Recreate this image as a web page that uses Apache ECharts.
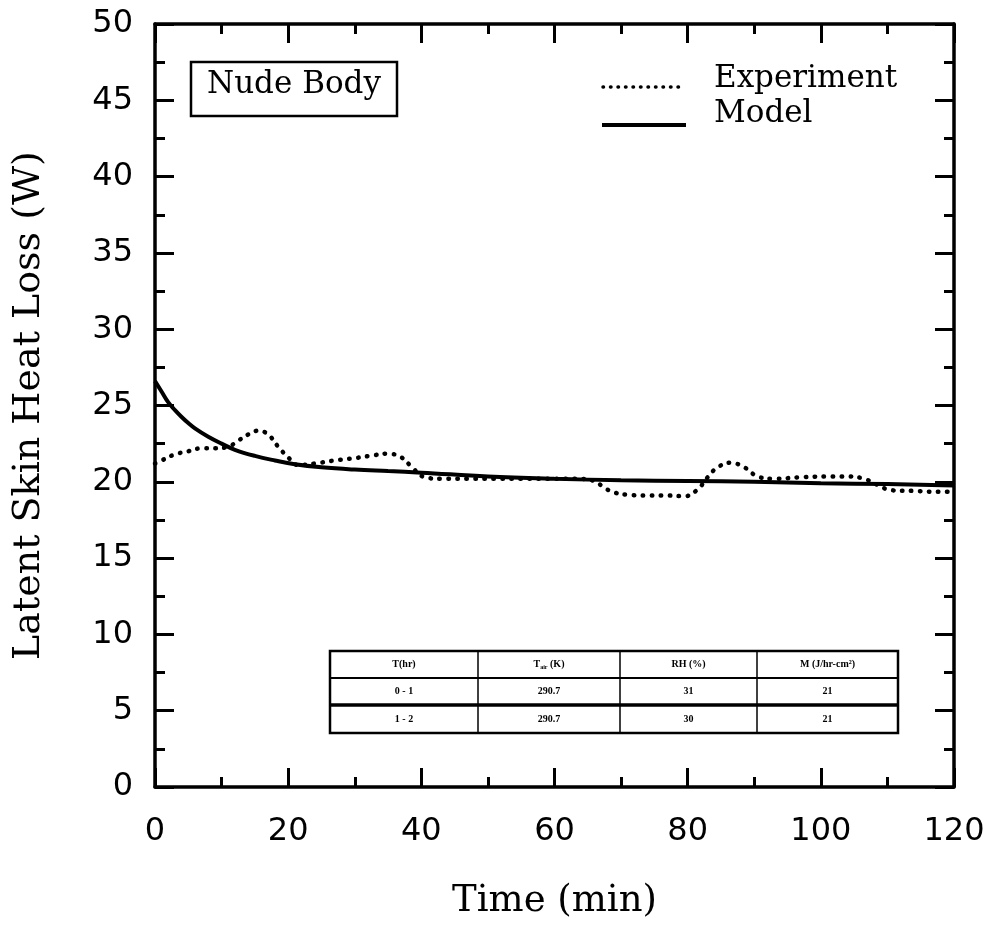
<!DOCTYPE html>
<html>
<head>
<meta charset="utf-8">
<script src="https://cdn.jsdelivr.net/npm/echarts@6/dist/echarts.min.js"></script>
<style>
  html, body { margin: 0; padding: 0; background: #fff; }
  #chart { width: 992px; height: 931px; }
</style>
</head>
<body>
<div id="chart"></div>
<script>
// Model prediction of latent skin heat loss (W) versus time (min)
const modelTime = [0, 1, 2, 3, 4, 5, 6, 8, 10, 12, 15, 18, 21, 25, 30, 35, 40, 50, 60, 70, 80, 90, 100, 110, 120];
const modelLoss = [26.6, 25.9, 25.2, 24.7, 24.25, 23.85, 23.5, 22.95, 22.5, 22.1, 21.7, 21.4, 21.15, 20.95, 20.8, 20.7, 20.6, 20.35, 20.2, 20.1, 20.05, 20.0, 19.9, 19.85, 19.75];

// Measured latent skin heat loss (W)
const expTime = [0, 1, 3, 5, 7, 9, 11, 12.5, 14, 15.5, 17, 18.5, 20, 21.5, 24, 27, 30, 33, 35, 37, 38.5, 40.5, 43, 47, 51, 55, 59, 63, 66, 67.5, 69, 71, 74, 77, 79.5, 81.5, 83, 84.5, 86.5, 88.5, 90.5, 93, 97, 101, 104, 106.5, 108.5, 110.5, 114, 117, 120];
const expLoss = [21.2, 21.4, 21.8, 22.0, 22.2, 22.2, 22.3, 22.7, 23.1, 23.35, 23.1, 22.3, 21.6, 21.1, 21.2, 21.4, 21.55, 21.75, 21.85, 21.6, 21.0, 20.3, 20.2, 20.2, 20.2, 20.2, 20.2, 20.2, 20.05, 19.6, 19.3, 19.15, 19.1, 19.1, 19.05, 19.5, 20.3, 20.95, 21.25, 20.95, 20.35, 20.2, 20.3, 20.35, 20.35, 20.2, 19.8, 19.45, 19.4, 19.35, 19.35];

// Experimental conditions table
const tableHeader = ['T(hr)', '{b|T}{sub|air}{b| (K)}', 'RH (%)', 'M (J/hr-cm²)'];
const tableRows = [
  ['0 - 1', '290.7', '31', '21'],
  ['1 - 2', '290.7', '30', '21']
];

const panelTitle = 'Nude Body';
const legendNames = ['Experiment', 'Model'];

const slabFont = "'DejaVu Serif', 'Liberation Serif', serif";
const sansFont = "'DejaVu Sans', sans-serif";
const serifFont = "'Liberation Serif', 'Times New Roman', serif";

const zip = (xs, ys) => xs.map((x, i) => [x, ys[i]]);

const chart = echarts.init(document.getElementById('chart'), null, { renderer: 'canvas' });

// Table layout
const tLeft = 330, tTop = 651, tRight = 898, tBottom = 733;
const colEdges = [330, 478, 620, 757, 898];
const rowEdges = [651, 678, 705, 733];
const tableGraphics = [];
tableGraphics.push({
  type: 'rect', z: 100,
  shape: { x: tLeft, y: tTop, width: tRight - tLeft, height: tBottom - tTop },
  style: { fill: '#fff', stroke: '#000', lineWidth: 2.5 }
});
rowEdges.slice(1, -1).forEach((y, i) => {
  tableGraphics.push({
    type: 'line', z: 101,
    shape: { x1: tLeft, y1: y, x2: tRight, y2: y },
    style: { stroke: '#000', lineWidth: i === 1 ? 3.5 : 2 }
  });
});
colEdges.slice(1, -1).forEach(x => {
  tableGraphics.push({
    type: 'line', z: 101,
    shape: { x1: x, y1: tTop, x2: x, y2: tBottom },
    style: { stroke: '#000', lineWidth: 1.5 }
  });
});
[tableHeader].concat(tableRows).forEach((row, r) => {
  row.forEach((cell, c) => {
    tableGraphics.push({
      type: 'text', z: 102,
      x: (colEdges[c] + colEdges[c + 1]) / 2,
      y: (rowEdges[r] + rowEdges[r + 1]) / 2,
      style: {
        text: cell,
        fill: '#000',
        font: 'bold 10px ' + serifFont,
        align: 'center',
        verticalAlign: 'middle',
        rich: {
          b: { font: 'bold 10px ' + serifFont, fill: '#000' },
          sub: { font: 'bold 6px ' + serifFont, fill: '#000', padding: [6, 0, 0, 0] }
        }
      }
    });
  });
});

const tickCommon = {
  axisLine: { show: true, onZero: false, lineStyle: { color: '#000', width: 3.5 } },
  axisTick: { show: true, inside: true, length: 19, lineStyle: { color: '#000', width: 3 } },
  minorTick: { show: true, splitNumber: 2, length: 10, lineStyle: { color: '#000', width: 3 } },
  splitLine: { show: false },
  minorSplitLine: { show: false }
};

const option = {
  backgroundColor: '#fff',
  animation: false,
  grid: { left: 155, right: 38, top: 24, bottom: 144, containLabel: false },
  xAxis: [
    Object.assign({
      type: 'value', min: 0, max: 120, interval: 20, position: 'bottom',
      name: 'Time (min)', nameLocation: 'middle', nameGap: 96,
      nameTextStyle: { fontFamily: slabFont, fontSize: 37, color: '#000' },
      axisLabel: { show: true, margin: 29, fontFamily: sansFont, fontSize: 32, color: '#000' }
    }, tickCommon),
    Object.assign({
      type: 'value', min: 0, max: 120, interval: 20, position: 'top',
      axisLabel: { show: false }
    }, tickCommon)
  ],
  yAxis: [
    Object.assign({
      type: 'value', min: 0, max: 50, interval: 5, position: 'left',
      name: 'Latent Skin Heat Loss (W)', nameLocation: 'middle', nameGap: 107,
      nameTextStyle: { fontFamily: slabFont, fontSize: 38, color: '#000' },
      axisLabel: { show: true, margin: 22, fontFamily: sansFont, fontSize: 32, color: '#000' }
    }, tickCommon),
    Object.assign({
      type: 'value', min: 0, max: 50, interval: 5, position: 'right',
      axisLabel: { show: false }
    }, tickCommon)
  ],
  series: [
    {
      name: legendNames[0], type: 'line', data: zip(expTime, expLoss),
      smooth: 0.4, showSymbol: false, clip: true,
      lineStyle: { color: '#000', width: 4.5, type: [0.5, 8.5], cap: 'round' },
      z: 3
    },
    {
      name: legendNames[1], type: 'line', data: zip(modelTime, modelLoss),
      smooth: 0.4, showSymbol: false, clip: true,
      lineStyle: { color: '#000', width: 4 },
      z: 4
    }
  ],
  graphic: [
    {
      type: 'rect', z: 100,
      shape: { x: 191, y: 62, width: 206, height: 54 },
      style: { fill: '#fff', stroke: '#000', lineWidth: 2.5 }
    },
    {
      type: 'text', z: 101, x: 207, y: 85,
      style: { text: panelTitle, font: '31px ' + slabFont, fill: '#000', align: 'left', verticalAlign: 'middle' }
    },
    {
      type: 'line', z: 100,
      shape: { x1: 603, y1: 87, x2: 685, y2: 87 },
      style: { stroke: '#000', lineWidth: 3.5, lineDash: [0.5, 7], lineCap: 'round' }
    },
    {
      type: 'line', z: 100,
      shape: { x1: 602, y1: 125, x2: 686, y2: 125 },
      style: { stroke: '#000', lineWidth: 4 }
    },
    {
      type: 'text', z: 101, x: 714, y: 79,
      style: { text: legendNames[0], font: '31px ' + slabFont, fill: '#000', align: 'left', verticalAlign: 'middle' }
    },
    {
      type: 'text', z: 101, x: 714, y: 114,
      style: { text: legendNames[1], font: '31px ' + slabFont, fill: '#000', align: 'left', verticalAlign: 'middle' }
    }
  ].concat(tableGraphics)
};

chart.setOption(option);
</script>
</body>
</html>
